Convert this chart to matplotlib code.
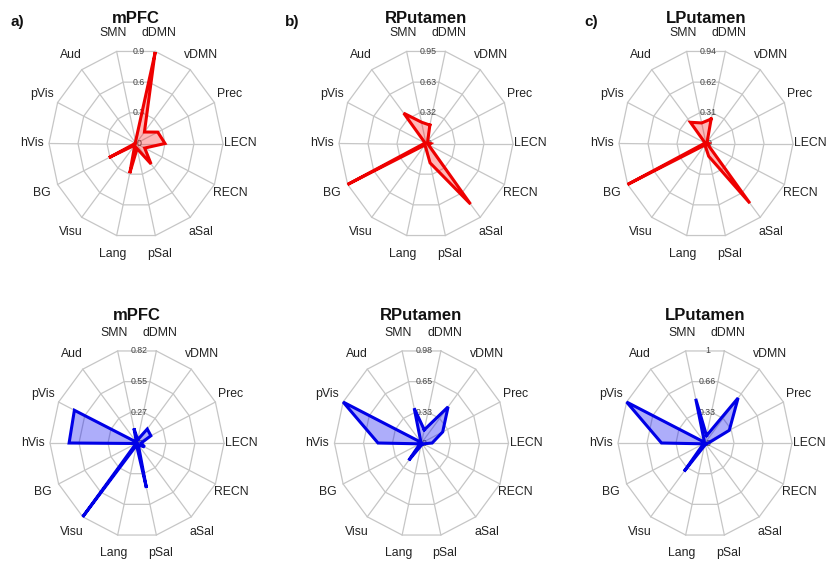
import numpy as np
import matplotlib
matplotlib.use('Agg')
import matplotlib.pyplot as plt

plt.rcParams['font.family'] = ['Liberation Sans', 'DejaVu Sans']

CATEGORIES = ['dDMN', 'vDMN', 'Prec', 'LECN', 'RECN', 'aSal', 'pSal',
              'Lang', 'Visu', 'BG', 'hVis', 'pVis', 'Aud', 'SMN']

TITLES = ['mPFC', 'RPutamen', 'LPutamen']
LETTERS = ['a)', 'b)', 'c)']

# top row (red)
mpfc_top = [0.88, 0.14, 0.25, 0.30, 0.10, 0.25, 0.05, 0.29, 0.02, 0.31, 0.01, 0.01, 0.01, 0.02]
rput_top = [0.19, 0.03, 0.02, 0.05, 0.03, 0.78, 0.20, 0.03, 0.02, 0.95, 0.02, 0.01, 0.39, 0.22]
lput_top = [0.25, 0.02, 0.01, 0.03, 0.02, 0.76, 0.13, 0.03, 0.02, 0.94, 0.02, 0.01, 0.27, 0.21]
top_max = [0.9, 0.95, 0.94]
top_ticks = [['0', '0.3', '0.6', '0.9'],
             ['0', '0.32', '0.63', '0.95'],
             ['0', '0.31', '0.62', '0.94']]

# bottom row (blue)
mpfc_bot = [0.03, 0.155, 0.145, 0.04, 0.08, 0.02, 0.40, 0.02, 0.82, 0.01, 0.64, 0.655, 0.01, 0.13]
rput_bot = [0.14, 0.48, 0.265, 0.12, 0.02, 0.02, 0.02, 0.03, 0.23, 0.02, 0.49, 0.98, 0.01, 0.37]
lput_bot = [0.08, 0.61, 0.31, 0.04, 0.02, 0.02, 0.02, 0.03, 0.385, 0.02, 0.50, 1.00, 0.01, 0.48]
bot_max = [0.82, 0.98, 1.0]
bot_ticks = [['0', '0.27', '0.55', '0.82'],
             ['0', '0.33', '0.65', '0.98'],
             ['0', '0.33', '0.66', '1']]

W, H = 829, 568
SX, SY = 87.0, 94.4     # pixels per radius unit (plot region is a bit taller than wide)
XL, YL = 1.6, 1.5

n = len(CATEGORIES)
theta = np.deg2rad(90 - 180.0 / n - np.arange(n) * 360.0 / n)


def radar(fig, cx, cy, values, vmax, ticks, line_col, fill_col, title, title_dy):
    w, h = 2 * XL * SX, 2 * YL * SY
    ax = fig.add_axes([(cx - w / 2) / W, (H - cy - h / 2) / H, w / W, h / H])
    ax.set_xlim(-XL, XL)
    ax.set_ylim(-YL, YL)
    ax.axis('off')
    ax.patch.set_alpha(0)

    # grid
    for f in [1 / 3, 2 / 3, 1.0]:
        xs = np.append(np.cos(theta), np.cos(theta[0])) * f
        ys = np.append(np.sin(theta), np.sin(theta[0])) * f
        ax.plot(xs, ys, color='#c6c6c6', lw=0.9, zorder=1)
    for t in theta:
        ax.plot([0, np.cos(t)], [0, np.sin(t)], color='#c6c6c6', lw=0.9, zorder=1)

    # scale labels along the top
    top = np.cos(np.pi / n)
    for i, lab in enumerate(ticks):
        ax.text(0.03, i / 3 * top, lab, ha='center', va='center',
                fontsize=6.3, color='#444444', zorder=2)

    # category labels
    for t, lab in zip(theta, CATEGORIES):
        ax.text(1.2 * np.cos(t), 1.2 * np.sin(t), lab, ha='center', va='center',
                fontsize=8.8, color='#222222')

    r = np.array(values) / vmax
    xs = np.append(r * np.cos(theta), r[0] * np.cos(theta[0]))
    ys = np.append(r * np.sin(theta), r[0] * np.sin(theta[0]))
    ax.fill(xs, ys, color=fill_col, zorder=3)
    ax.plot(xs, ys, color=line_col, lw=2.2, zorder=4, solid_joinstyle='miter')

    fig.text(cx / W, 1 - (cy - title_dy) / H, title, ha='center', va='center',
             fontsize=12, fontweight='bold', color='#111111')


fig = plt.figure(figsize=(W / 100, H / 100), dpi=100)

top_cx = [136, 426, 706]
bot_cx = [137, 421.5, 705]
top_vals = [mpfc_top, rput_top, lput_top]
bot_vals = [mpfc_bot, rput_bot, lput_bot]

for i in range(3):
    radar(fig, top_cx[i], 143.5, top_vals[i], top_max[i], top_ticks[i],
          '#ee0000', (1.0, 0.0, 0.0, 0.28), TITLES[i], 125)
    radar(fig, bot_cx[i], 443, bot_vals[i], bot_max[i], bot_ticks[i],
          '#0000e6', (0.0, 0.0, 0.95, 0.32), TITLES[i], 128)

letter_x = [17, 292, 591]
for x, lab in zip(letter_x, LETTERS):
    fig.text(x / W, 1 - 22 / H, lab, ha='center', va='center',
             fontsize=11, fontweight='bold', color='#111111')

fig.savefig('out.png', dpi=100)
